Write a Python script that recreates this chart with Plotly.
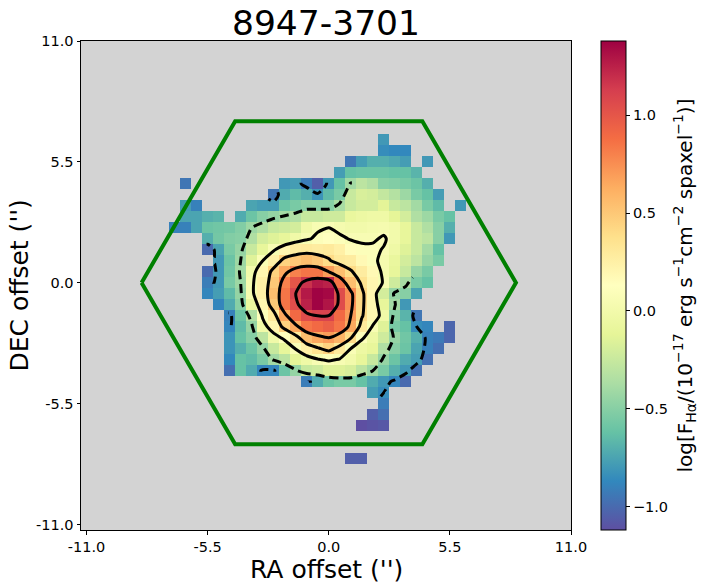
import numpy as np
import plotly.graph_objects as go

N = None
TITLE = "8947-3701"
X_LABEL = "RA offset ('')"
Y_LABEL = "DEC offset ('')"
TICK_VALUES = [-11.0, -5.5, 0.0, 5.5, 11.0]
TICK_LABELS = ["-11.0", "-5.5", "0.0", "5.5", "11.0"]
CBAR_TICKS = [-1.0, -0.5, 0.0, 0.5, 1.0]
HEX_X = [-8.5, -4.25, 4.25, 8.5, 4.25, -4.25, -8.5]
HEX_Y = [0, 7.35, 7.35, 0, -7.35, -7.35, 0]
OUTER_LEVEL = -0.85
INNER_DASHED_LEVEL = -0.42
SOLID_LEVELS = [0.07, 0.38, 0.7, 1.1]

# (row, first column, log flux per spaxel)
SPAXELS = [
    (35, 27, [-.8]),
    (34, 27, [-.85, -.87, -.87]),
    (33, 24, [-.95, -.78, -.7, -.7, -.73, -.78, N, -.8]),
    (32, 23, [-.78, -.62, -.6, -.6, -.6, -.62, -.62, -.68]),
    (31, 9, [-.95, N, N, N, N, N, N, N, N, -.8, -.78, -.92, -1.05, -.8, -.62, -.4, -.3, -.35, -.5, -.52, -.55, -.6, -.7]),
    (30, 17, [-.95, -.72, -.65, -.7, -.82, -.65, -.55, -.25, -.18, -.2, -.27, -.33, -.42, -.55, -.62, -.78]),
    (29, 9, [-.78, -.9, N, N, N, N, -.75, -.78, -.78, -.6, -.55, -.5, -.5, -.5, -.38, -.25, -.2, -.2, -.13, -.25, -.3, -.4, -.55, -.65, N, -.8]),
    (28, 9, [-.75, -.75, -.7, -.68, N, -.72, -.6, -.5, -.45, -.4, -.35, -.25, -.25, -.22, -.22, -.08, -.05, -.03, -.03, -.12, -.2, -.35, -.42, -.55, -.62]),
    (27, 8, [-.9, -.9, -.75, -.6, -.58, -.57, -.52, -.42, -.35, -.25, -.22, -.2, -.02, .05, .07, .03, 0, 0, .02, .03, 0, -.1, -.25, -.35, -.5, -.7]),
    (26, 11, [-.7, -.57, -.52, -.5, -.35, -.2, -.15, -.1, -.02, .05, .1, .13, .1, .06, .05, .05, .09, 0, -.1, -.25, -.3, -.5, -.8]),
    (25, 11, [-1.0, -.75, -.55, -.45, -.25, -.1, .05, .2, .28, .3, .28, .3, .25, .15, .1, .1, .06, -.03, -.15, -.25, -.4, -.62]),
    (24, 12, [-.8, -.6, -.42, -.15, .07, .25, .45, .5, .55, .5, .4, .3, .28, .18, .1, .03, -.08, -.2, -.3, -.45, -.55]),
    (23, 11, [-1.0, -.8, -.58, -.4, 0, .2, .45, .65, .8, .85, .85, .7, .55, .4, .28, .18, .03, -.1, -.25, -.45, -.55]),
    (22, 11, [-.92, -.8, -.55, -.42, .03, .25, .5, .8, 1.0, 1.18, 1.28, 1.25, .85, .55, .35, .2, .05, -.22, -.38, -.55, -.62]),
    (21, 11, [-.88, -.78, -.65, -.45, .03, .25, .55, .85, 1.1, 1.28, 1.37, 1.35, 1.05, .75, .42, .2, -.2, -.45, -.5, -.75]),
    (20, 12, [-.88, -.72, -.5, -.08, .2, .5, .85, 1.05, 1.25, 1.37, 1.3, 1.05, .75, .42, .2, -.1, -.4, -.8]),
    (19, 13, [-.9, -.6, -.35, .1, .3, .65, .9, 1.05, 1.1, 1.1, .9, .7, .4, .2, -.02, -.5, -.68, -.95]),
    (18, 13, [-.88, -.65, -.45, -.02, .2, .45, .65, .85, .9, .95, .85, .65, .3, .05, -.15, -.55, -.62, -.85, -.88, N, -1.02]),
    (17, 13, [-.82, -.62, -.5, -.3, -.02, .12, .3, .55, .65, .7, .6, .4, .1, -.05, -.22, -.45, -.58, -.7, -.9, -.93, -1.02]),
    (16, 13, [-.82, -.7, -.6, -.45, -.25, -.1, .08, .25, .35, .45, .3, .07, -.05, -.1, -.35, -.5, -.6, -.75, -.9, -.98]),
    (15, 13, [-.87, -.62, -.65, -.55, -.4, -.3, -.12, -.03, .05, .1, .05, 0, -.1, -.25, -.45, -.6, -.72, -.78, -.97]),
    (14, 13, [-.98, -.62, -.72, -.88, -.88, -.6, -.45, -.25, -.22, -.15, -.15, -.18, -.3, -.42, -.55, -.7, -.8, -.97]),
    (13, 20, [-.92, -.72, -.6, -.55, -.55, -.62, -.72, -.8, -.88, -1.0]),
    (12, 26, [-.78, -.85]),
    (11, 27, [-.92]),
    (10, 26, [-1.05, -.98]),
    (9, 25, [-1.15, -1.1, -1.08]),
    (6, 24, [-1.05, -1.05]),
]
# Spaxels (first col, last col, first row, last row) that the contours use
OUTER_KEEP = [(16, 18, 29, 31), (19, 22, 30, 31), (11, 12, 22, 26), (13, 14, 18, 20),
              (15, 18, 14, 15), (20, 21, 12, 13), (26, 31, 11, 20)]
INNER_DROP = [(25, 43, 26, 43), (30, 43, 23, 43)]

grid = np.full((44, 44), np.nan)
for row, first, values in SPAXELS:
    for k, v in enumerate(values):
        if v is not None:
            grid[row, first + k] = v
centres = -11 + 0.5 * np.arange(44)

outer_grid = np.full((44, 44), np.nan)
for i0, i1, j0, j1 in OUTER_KEEP:
    outer_grid[j0:j1 + 1, i0:i1 + 1] = grid[j0:j1 + 1, i0:i1 + 1]
inner_grid = grid.copy()
for i0, i1, j0, j1 in INNER_DROP:
    inner_grid[j0:j1 + 1, i0:i1 + 1] = np.nan

FONT = "DejaVu Sans"
fig = go.Figure()
fig.add_trace(go.Heatmap(
    x=centres, y=centres, z=grid, colorscale="Spectral_r", zmin=-1.12, zmax=1.38,
    hoverongaps=False,
    colorbar=dict(
        x=1.0612, xanchor="left", y=0.5, yanchor="middle", thickness=25, thicknessmode="pixels",
        len=1, lenmode="fraction", outlinewidth=1, outlinecolor="black", xpad=0, ypad=0,
        tickvals=CBAR_TICKS, ticks="outside", ticklen=4, tickcolor="black",
        tickfont=dict(family=FONT, size=14.5, color="black"), tickformat=".1f",
        title=dict(text="log[F<sub>Hα</sub>/(10<sup>−17</sup> erg s<sup>−1</sup>cm<sup>−2</sup> spaxel<sup>−1</sup>)]",
                   side="right", font=dict(family=FONT, size=20, color="black")),
    ),
))
for z, lev, dash in [(outer_grid, OUTER_LEVEL, "9px,5px"), (inner_grid, INNER_DASHED_LEVEL, "9px,5px")] + [(grid, s, "solid") for s in SOLID_LEVELS]:
    fig.add_trace(go.Contour(
        x=centres, y=centres, z=z, showscale=False, hoverinfo="skip",
        contours=dict(type="levels", start=lev, end=lev, size=1, coloring="none", showlabels=False),
        line=dict(color="black", width=3, dash=dash, smoothing=0.6),
        connectgaps=False,
    ))
fig.add_trace(go.Scatter(x=HEX_X, y=HEX_Y, mode="lines", line=dict(color="green", width=4), hoverinfo="skip", showlegend=False))

axis = dict(
    tickvals=TICK_VALUES, ticktext=TICK_LABELS, ticks="outside", ticklen=3.5, tickcolor="black", tickwidth=1,
    showgrid=False, zeroline=False, showline=True, linecolor="black", linewidth=1, mirror=True,
    tickfont=dict(family=FONT, size=14.5, color="black"), range=[-11.25, 11], automargin=False,
)
label_font = dict(family=FONT, size=25, color="black")
fig.update_layout(
    width=705, height=587, autosize=False,
    margin=dict(l=81, r=134, t=41, b=57, autoexpand=False),
    paper_bgcolor="white", plot_bgcolor="#d3d3d3", showlegend=False,
    title=dict(text=TITLE, x=326 / 705, xanchor="center", y=0.961, yanchor="middle", automargin=False,
               font=dict(family=FONT, size=34.5, color="black")),
    xaxis=axis, yaxis=axis,
    annotations=[
        dict(text=X_LABEL, xref="paper", yref="paper", x=0.5, y=-39 / 489, xanchor="center", yanchor="middle",
             showarrow=False, font=label_font),
        dict(text=Y_LABEL, xref="paper", yref="paper", x=-62 / 490, y=0.5, xanchor="center", yanchor="middle",
             showarrow=False, textangle=-90, font=label_font),
    ],
)
fig.write_html("out.html", config={"displayModeBar": False},
               post_script="document.body.style.margin='0';document.documentElement.style.overflow='hidden';")
